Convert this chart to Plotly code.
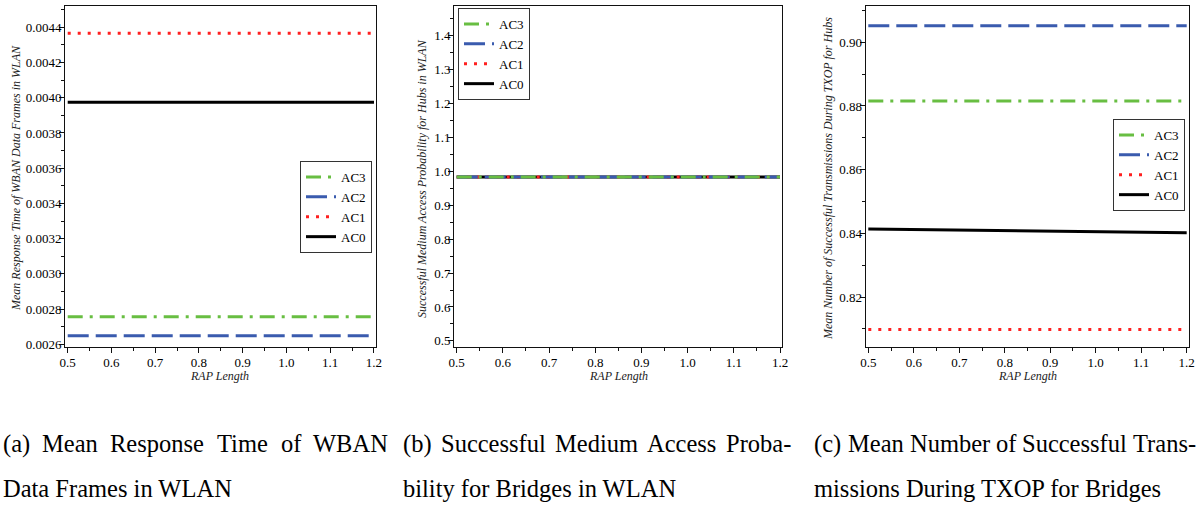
import plotly.graph_objects as go

W, H = 1198, 506

# ---------------- data ----------------
rap_length = [0.5, 0.6, 0.7, 0.8, 0.9, 1.0, 1.1, 1.2]
series_names = ["AC0", "AC1", "AC2", "AC3"]

# (a) Mean response time of WBAN data frames in WLAN
resp_ac0 = [0.003974] * 8
resp_ac1 = [0.004366] * 8
resp_ac2 = [0.002649] * 8
resp_ac3 = [0.002757] * 8

# (b) Successful medium access probability
prob_ac0 = [0.983] * 8
prob_ac1 = [0.983] * 8
prob_ac2 = [0.983] * 8
prob_ac3 = [0.983] * 8

# (c) Mean number of successful transmissions during TXOP
txop_ac0 = [0.8414, 0.8412, 0.8410, 0.8408, 0.8406, 0.8405, 0.8403, 0.8402]
txop_ac1 = [0.8098] * 8
txop_ac2 = [0.90523] * 8
txop_ac3 = [0.88154] * 8

x_tick_vals = [0.5, 0.6, 0.7, 0.8, 0.9, 1.0, 1.1, 1.2]

ytitles = [
    "Mean Response Time of WBAN Data Frames in WLAN",
    "Successful Medium Access Probability for Hubs in WLAN",
    "Mean Number of Successful Transmissions During TXOP for Hubs",
]
xtitle = "RAP Length"

cap_a_line1 = ["(a)", "Mean", "Response", "Time", "of", "WBAN"]
cap_a_line2 = "Data Frames in WLAN"
cap_b_line1 = ["(b)", "Successful", "Medium", "Access", "Proba-"]
cap_b_line2 = "bility for Bridges in WLAN"
cap_c_line1 = ["(c)", "Mean", "Number", "of", "Successful", "Trans-"]
cap_c_line2 = "missions During TXOP for Bridges"

# ---------------- styles ----------------
styles = {
    "AC0": dict(color="#000000", dash="solid"),
    "AC1": dict(color="#FF2020", dash="3px,7px"),
    "AC2": dict(color="#3A5BAE", dash="21px,7px"),
    "AC3": dict(color="#68BE42", dash="15px,7px,3px,7px"),
}
SERIF = "Liberation Serif, Times New Roman, Times, serif"

# Times / Liberation Serif advance widths (1/1000 em) for justifying caption lines
TIMES_W = {
    "(": 333, ")": 333, "-": 333, "a": 444, "b": 500, "c": 444, "d": 500, "e": 444,
    "f": 333, "i": 278, "l": 278, "m": 778, "n": 500, "o": 500, "p": 500, "r": 333,
    "s": 389, "t": 278, "u": 500, "M": 889, "R": 667, "T": 611, "W": 944, "B": 667,
    "A": 722, "N": 722, "S": 556, "P": 556,
}

def word_width(w, size):
    return sum(TIMES_W.get(ch, 500) for ch in w) * size / 1000.0

def px2x(p):
    return p / W

def px2y(p):
    return 1 - p / H

panels = [
    dict(data=[resp_ac0, resp_ac1, resp_ac2, resp_ac3],
         xdom=(65, 376), ydom=(6, 347), xr=[0.4938, 1.2046], yr=[0.002585, 0.004521],
         ytick0=0.0026, ydtick=0.0002, yminor=0.0001, yfmt=".4f",
         legend=dict(x=372, y=207, xanchor="right", yanchor="middle"),
         ytitle_pos=(16, 178), xtitle_pos=(220, 376)),
    dict(data=[prob_ac0, prob_ac1, prob_ac2, prob_ac3],
         xdom=(454, 782), ydom=(6, 347), xr=[0.49415, 1.20433], yr=[0.482, 1.4875],
         ytick0=0.5, ydtick=0.1, yminor=0.05, yfmt=".1f",
         legend=dict(x=458, y=8, xanchor="left", yanchor="top"),
         ytitle_pos=(422, 179), xtitle_pos=(618, 376)),
    dict(data=[txop_ac0, txop_ac1, txop_ac2, txop_ac3],
         xdom=(865.7, 1189.3), ydom=(6, 347), xr=[0.49428, 1.20572], yr=[0.8043, 0.9114],
         ytick0=0.82, ydtick=0.02, yminor=0.01, yfmt=".2f",
         legend=dict(x=1185, y=165, xanchor="right", yanchor="middle"),
         ytitle_pos=(828, 179), xtitle_pos=(1027, 376)),
]

fig = go.Figure()
layout = dict(
    width=W, height=H,
    margin=dict(l=0, r=0, t=0, b=0),
    paper_bgcolor="white", plot_bgcolor="white",
    font=dict(family=SERIF, size=13, color="black"),
    annotations=[],
)

for i, p in enumerate(panels):
    n = "" if i == 0 else str(i + 1)
    leg = "legend" if i == 0 else f"legend{i + 1}"
    for name, ys in zip(series_names, p["data"]):
        st = styles[name]
        fig.add_trace(go.Scatter(
            x=rap_length, y=ys, mode="lines", name=name,
            line=dict(color=st["color"], dash=st["dash"], width=3),
            xaxis="x" + n, yaxis="y" + n, legend=leg, showlegend=True,
            hoverinfo="skip",
        ))
    common = dict(showline=True, linecolor="#111", linewidth=1, mirror=True,
                  showgrid=False, zeroline=False, ticks="outside", tickcolor="#111",
                  ticklen=5, tickwidth=1, automargin=False)
    layout["xaxis" + n] = dict(
        domain=[px2x(p["xdom"][0]), px2x(p["xdom"][1])],
        range=p["xr"], anchor="y" + n,
        tickmode="array", tickvals=x_tick_vals, tickformat=".1f",
        tickfont=dict(family=SERIF, size=13),
        ticklabelstandoff=-2,
        minor=dict(dtick=0.05, tick0=0.5, ticks="outside", ticklen=3, tickcolor="#111"),
        **common,
    )
    layout["yaxis" + n] = dict(
        domain=[px2y(p["ydom"][1]), px2y(p["ydom"][0])],
        range=p["yr"], anchor="x" + n,
        tick0=p["ytick0"], dtick=p["ydtick"], tickformat=p["yfmt"],
        tickfont=dict(family=SERIF, size=13),
        ticklabelstandoff=-5,
        minor=dict(dtick=p["yminor"], tick0=p["ytick0"], ticks="outside", ticklen=3, tickcolor="#111"),
        **common,
    )
    lg = p["legend"]
    layout[leg] = dict(
        x=px2x(lg["x"]), y=px2y(lg["y"]), xanchor=lg["xanchor"], yanchor=lg["yanchor"],
        xref="paper", yref="paper",
        bgcolor="white", bordercolor="#333", borderwidth=1,
        font=dict(family=SERIF, size=13, color="black"),
        traceorder="reversed", itemwidth=30, tracegroupgap=0,
    )
    tx, ty = p["ytitle_pos"]
    layout["annotations"].append(dict(
        text="<i>" + ytitles[i] + "</i>", x=px2x(tx), y=px2y(ty), xref="paper", yref="paper",
        textangle=-90, showarrow=False, xanchor="center", yanchor="middle",
        font=dict(family=SERIF, size=12, color="#222"),
    ))
    tx, ty = p["xtitle_pos"]
    layout["annotations"].append(dict(
        text="<i>" + xtitle + "</i>", x=px2x(tx), y=px2y(ty), xref="paper", yref="paper",
        showarrow=False, xanchor="center", yanchor="middle",
        font=dict(family=SERIF, size=12, color="#222"),
    ))

# captions: first lines justified between the column edges
CAP_SIZE = 24.5
cap_lines = [
    (cap_a_line1, 3, 388),
    (cap_b_line1, 403, 791),
    (cap_c_line1, 814.5, 1197),
]
line1_y, line2_y = 443.5, 488.5
for words, left, right in cap_lines:
    widths = [word_width(w, CAP_SIZE) for w in words]
    gap = (right - left - sum(widths)) / (len(words) - 1)
    xpos = left
    for w, wd in zip(words, widths):
        layout["annotations"].append(dict(
            text=w, x=px2x(xpos - 1), y=px2y(line1_y), xref="paper", yref="paper",
            showarrow=False, xanchor="left", yanchor="middle", borderpad=0,
            font=dict(family=SERIF, size=CAP_SIZE, color="black"),
        ))
        xpos += wd + gap
for txt, xp in [(cap_a_line2, 3), (cap_b_line2, 403), (cap_c_line2, 814.5)]:
    layout["annotations"].append(dict(
        text=txt, x=px2x(xp - 1), y=px2y(line2_y), xref="paper", yref="paper",
        showarrow=False, xanchor="left", yanchor="middle", borderpad=0,
        font=dict(family=SERIF, size=CAP_SIZE, color="black"),
    ))

fig.update_layout(**layout)
fig.write_html(
    "out.html",
    config={"displayModeBar": False},
    post_script="document.body.style.margin='0';document.body.style.overflow='hidden';",
)
